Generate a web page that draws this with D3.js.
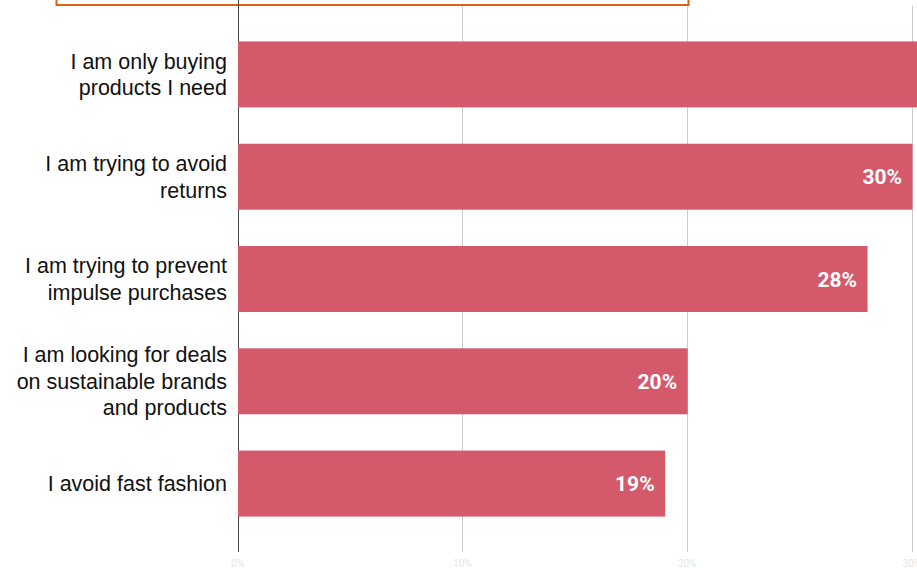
<!DOCTYPE html>
<html>
<head>
<meta charset="utf-8">
<script src="https://cdn.jsdelivr.net/npm/d3@7"></script>
<style>
  html, body { margin: 0; padding: 0; background: #ffffff; overflow: hidden; }
  svg { display: block; }
</style>
</head>
<body>
<svg id="chart" width="917" height="571"></svg>
<script>
// Reasons given for shopping less, share of respondents
const categories = [
  ["I am only buying", "products I need"],
  ["I am trying to avoid", "returns"],
  ["I am trying to prevent", "impulse purchases"],
  ["I am looking for deals", "on sustainable brands", "and products"],
  ["I avoid fast fashion"]
];
const values = [0.34, 0.30, 0.28, 0.20, 0.19];
const tickValues = [0, 0.10, 0.20, 0.30];
const tickLabels = ["0%", "10%", "20%", "30%"];

const W = 917, H = 571;
const svg = d3.select("#chart");

const keys = categories.map((c, i) => "c" + i);

const x = d3.scaleLinear().domain([0, 0.30]).range([237.5, 912]);
const y = d3.scaleBand().domain(keys).range([23, 535])
  .paddingInner(0.355).paddingOuter(0.18);

const gridBottom = 552;

// title frame (runs off the top edge)
svg.append("rect")
  .attr("x", 56.5).attr("y", -30)
  .attr("width", 632).attr("height", 35)
  .attr("fill", "none")
  .attr("stroke", "#e0611a")
  .attr("stroke-width", 2);

// gridlines
const grid = svg.append("g");
grid.selectAll("line")
  .data(tickValues)
  .join("line")
  .attr("x1", d => Math.round(x(d)) + 0.5)
  .attr("x2", d => Math.round(x(d)) + 0.5)
  .attr("y1", d => d === 0 ? 0 : 6)
  .attr("y2", gridBottom)
  .attr("stroke", d => d === 0 ? "#444" : "#cccccc")
  .attr("stroke-width", 1);

// bars
svg.append("g").selectAll("rect")
  .data(values)
  .join("rect")
  .attr("x", x(0) + 0.5)
  .attr("y", (d, i) => y(keys[i]))
  .attr("width", d => x(d) - x(0))
  .attr("height", y.bandwidth())
  .attr("fill", "#d3596b");

// value labels inside bar ends (only where the bar end is on screen)
svg.append("g").selectAll("text")
  .data(values.map((v, i) => ({ v, i })).filter(d => x(d.v) <= W))
  .join("text")
  .attr("x", d => x(d.v) - 10)
  .attr("y", d => y(keys[d.i]) + y.bandwidth() / 2 + 7.5)
  .attr("text-anchor", "end")
  .attr("fill", "#ffffff")
  .style("font-family", "Roboto, 'Open Sans', sans-serif")
  .style("font-weight", "700")
  .style("font-size", "21px")
  .text(d => Math.round(d.v * 100) + "%");

// category labels
const lineH = 26.7;
const labels = svg.append("g").selectAll("text")
  .data(categories)
  .join("text")
  .attr("text-anchor", "end")
  .attr("fill", "#111")
  .style("font-family", "'Liberation Sans', Arial, sans-serif")
  .style("font-size", "21.5px");
labels.each(function(lines, i) {
  const cy = y(keys[i]) + y.bandwidth() / 2;
  const first = cy + 7.5 - (lines.length - 1) * lineH / 2;
  d3.select(this).selectAll("tspan")
    .data(lines)
    .join("tspan")
    .attr("x", 227)
    .attr("y", (d, j) => first + j * lineH)
    .text(d => d);
});

// faint axis tick labels
svg.append("g").selectAll("text")
  .data(tickValues)
  .join("text")
  .attr("x", d => x(d))
  .attr("y", 567)
  .attr("text-anchor", "middle")
  .attr("fill", "#e6e6e6")
  .style("font-family", "Roboto, sans-serif")
  .style("font-size", "10px")
  .text((d, i) => tickLabels[i]);
</script>
</body>
</html>
